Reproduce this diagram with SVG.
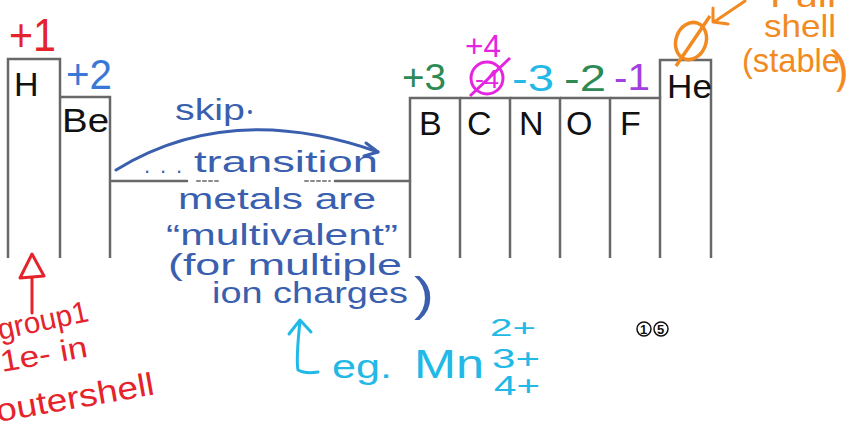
<svg xmlns="http://www.w3.org/2000/svg" width="852" height="431" viewBox="0 0 852 431">
<style>
.box{fill:none;stroke:#686868;stroke-width:2.5}
.el{font-family:"Liberation Sans",sans-serif;fill:#111;font-size:34px}
.hw{font-family:"Liberation Sans",sans-serif}
.red{fill:#e4232c}
.blue{fill:#3a5fae}
.blue2{fill:#3a78d8}
.green{fill:#2e8a55}
.mag{fill:#e524e0}
.cyan{fill:#22b9e6}
.purp{fill:#a23fe0}
.orng{fill:#f28a22}
</style>
<rect width="852" height="431" fill="#fff"/>

<g id="connectors" fill="none" stroke-linecap="round" stroke-linejoin="round">
  <path d="M112 181 H187" stroke="#686868" stroke-width="2.5"/>
  <path d="M197 181 H218 M305 181 H330" stroke="#8a8a8a" stroke-width="2" stroke-dasharray="3 3"/>
  <path d="M335 181 H410" stroke="#686868" stroke-width="2.5"/>
  <path id="skip-arc" d="M116 170 Q230 100 378 152" stroke="#3a5fae" stroke-width="3"/>
  <path d="M366 143 L378 152 L364 156" stroke="#3a5fae" stroke-width="3"/>
  <path id="red-arrow" d="M32 313 V278 M20 278 L32 254 L44 276 Z" stroke="#e4232c" stroke-width="3"/>
  <path id="cyan-arrow" d="M300 321 C298 340 296 360 298 370 Q305 374 318 372 M289 334 L300 320 L311 332" stroke="#22b9e6" stroke-width="3"/>
  <path id="orange-arrow" d="M745 1 L714 22 M713 8 L713 22 L728 24" stroke="#f28a22" stroke-width="3"/>
</g>

<g id="H"><path class="box" d="M8 258 V59 H60 V258"/><text class="el" x="14" y="96">H</text></g>
<g id="Be"><path class="box" d="M60 97 H110 V258"/><text class="el" x="62" y="132" textLength="47" lengthAdjust="spacingAndGlyphs">Be</text></g>
<g id="B"><path class="box" d="M410 258 V98 H460 V258"/><text class="el" x="419" y="135">B</text></g>
<g id="C"><path class="box" d="M460 98 H510 V258"/><text class="el" x="467" y="135">C</text></g>
<g id="N"><path class="box" d="M510 98 H560 V258"/><text class="el" x="519" y="135">N</text></g>
<g id="O"><path class="box" d="M560 98 H610 V258"/><text class="el" x="566" y="135">O</text></g>
<g id="F"><path class="box" d="M610 98 H660 V258"/><text class="el" x="620" y="135">F</text></g>
<g id="He"><path class="box" d="M660 98 V60 H711 V258"/><text class="el" x="667" y="98" font-size="30" textLength="45" lengthAdjust="spacingAndGlyphs">He</text></g>

<g id="charges" class="hw">
  <text class="red" x="9" y="51" font-size="46" textLength="47" lengthAdjust="spacingAndGlyphs">+1</text>
  <text class="blue2" x="66" y="89" font-size="42" textLength="46" lengthAdjust="spacingAndGlyphs">+2</text>
  <text class="green" x="402" y="90" font-size="36" textLength="44" lengthAdjust="spacingAndGlyphs">+3</text>
  <text class="mag" x="465" y="57" font-size="32" textLength="36" lengthAdjust="spacingAndGlyphs">+4</text>
  <g fill="none" stroke="#e524e0" stroke-width="3">
    <circle cx="487" cy="78" r="16"/>
    <path d="M470 96 L510 58"/>
  </g>
  <text class="mag" x="475" y="88" font-size="26" textLength="24" lengthAdjust="spacingAndGlyphs">-4</text>
  <text class="cyan" x="512" y="91" font-size="36" textLength="42" lengthAdjust="spacingAndGlyphs">-3</text>
  <text class="green" x="564" y="91" font-size="36" textLength="42" lengthAdjust="spacingAndGlyphs">-2</text>
  <text class="purp" x="614" y="90" font-size="36" textLength="36" lengthAdjust="spacingAndGlyphs">-1</text>
  <g fill="none" stroke="#f28a22" stroke-width="3.5">
    <ellipse cx="691" cy="41" rx="15" ry="19" transform="rotate(20 691 41)"/>
    <path d="M676 66 L710 16"/>
  </g>
</g>

<g id="full-shell-note" class="hw orng">
  <text x="770" y="7" font-size="30" textLength="66" lengthAdjust="spacingAndGlyphs">Full</text>
  <text x="764" y="37" font-size="32" textLength="72" lengthAdjust="spacingAndGlyphs">shell</text>
  <text x="742" y="72" font-size="34" textLength="98" lengthAdjust="spacingAndGlyphs">(stable</text>
  <text x="833" y="82" font-size="46" transform="rotate(-8 840 70)">)</text>
</g>

<g id="transition-note" class="hw blue">
  <text x="175" y="120" font-size="30" textLength="70" lengthAdjust="spacingAndGlyphs">skip</text>
  <circle cx="250" cy="112" r="2" fill="#3a5fae"/>
  <text x="144" y="173" font-size="22" textLength="38" lengthAdjust="spacing">...</text>
  <text x="194" y="172" font-size="30" textLength="184" lengthAdjust="spacingAndGlyphs">transition</text>
  <text x="178" y="209" font-size="30" textLength="198" lengthAdjust="spacingAndGlyphs">metals are</text>
  <text x="166" y="245" font-size="30" textLength="232" lengthAdjust="spacingAndGlyphs">“multivalent”</text>
  <text x="168" y="275" font-size="30" textLength="234" lengthAdjust="spacingAndGlyphs">(for multiple</text>
  <text x="212" y="303" font-size="30" textLength="196" lengthAdjust="spacingAndGlyphs">ion charges</text>
  <text x="414" y="310" font-size="46" textLength="20" lengthAdjust="spacingAndGlyphs">)</text>
</g>

<g id="group1-note" class="hw red">
  <text x="0" y="340" font-size="30" textLength="92" lengthAdjust="spacingAndGlyphs" transform="rotate(-12 0 340)">group1</text>
  <text x="2" y="372" font-size="30" textLength="88" lengthAdjust="spacingAndGlyphs" transform="rotate(-10 2 372)">1e- in</text>
  <text x="-2" y="422" font-size="32" textLength="160" lengthAdjust="spacingAndGlyphs" transform="rotate(-10 -2 422)">outershell</text>
</g>

<g id="example-note" class="hw cyan">
  <text x="332" y="378" font-size="34" textLength="60" lengthAdjust="spacingAndGlyphs">eg.</text>
  <text x="414" y="378" font-size="40" textLength="70" lengthAdjust="spacingAndGlyphs">Mn</text>
  <text x="490" y="336" font-size="24" textLength="46" lengthAdjust="spacingAndGlyphs">2+</text>
  <text x="492" y="368" font-size="28" textLength="48" lengthAdjust="spacingAndGlyphs">3+</text>
  <text x="494" y="395" font-size="28" textLength="46" lengthAdjust="spacingAndGlyphs">4+</text>
</g>

<g id="page-number" class="hw">
  <circle cx="644" cy="329" r="7" fill="none" stroke="#111" stroke-width="1.5"/>
  <circle cx="661" cy="329" r="7" fill="none" stroke="#111" stroke-width="1.5"/>
  <text x="640" y="334" font-size="13" fill="#111" font-weight="bold">1</text>
  <text x="657" y="334" font-size="13" fill="#111" font-weight="bold">5</text>
</g>
</svg>
